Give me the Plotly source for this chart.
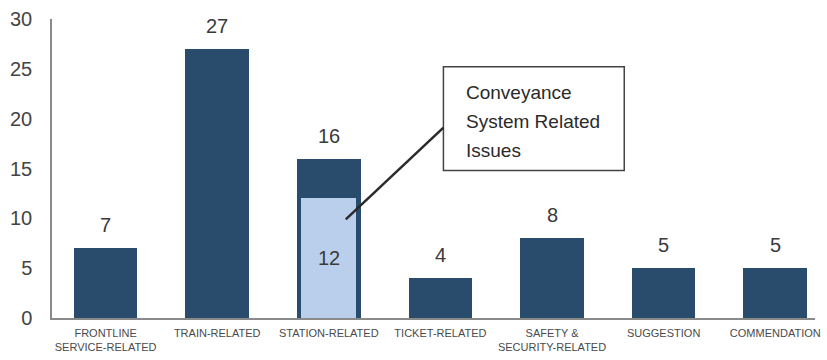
import plotly.graph_objects as go

# Complaint categories and counts
categories = ["FRONTLINE", "TRAIN", "STATION", "TICKET", "SAFETY", "SUGGESTION", "COMMENDATION"]
tick_labels = ["FRONTLINE<br>SERVICE-RELATED", "TRAIN-RELATED", "STATION-RELATED",
               "TICKET-RELATED", "SAFETY &<br>SECURITY-RELATED", "SUGGESTION", "COMMENDATION"]
counts = [7, 27, 16, 4, 8, 5, 5]

# Conveyance-system share of station-related issues
sub_category = ["STATION"]
sub_counts = [12]

y_ticks = [0, 5, 10, 15, 20, 25, 30]

DARK = "#294c6c"
LIGHT = "#bacfeb"
TEXT = "#3a3a3a"
FONT = "Liberation Sans, Arial, sans-serif"
BAR_W = 0.57
SUB_W = 0.49

fig = go.Figure()
fig.add_trace(go.Bar(x=categories, y=counts, width=BAR_W, offset=-BAR_W / 2,
                     marker=dict(color=DARK, line=dict(width=0)), hoverinfo="skip"))
fig.add_trace(go.Bar(x=sub_category, y=sub_counts, width=SUB_W, offset=-SUB_W / 2,
                     marker=dict(color=LIGHT, line=dict(width=0)), hoverinfo="skip"))

# value labels above each bar
for c, v in zip(categories, counts):
    fig.add_annotation(x=c, y=v, text=str(v), showarrow=False, yanchor="bottom", yshift=10,
                       font=dict(family=FONT, size=20, color=TEXT))
# label inside the conveyance segment
for c, v in zip(sub_category, sub_counts):
    fig.add_annotation(x=c, y=v / 2, text=str(v), showarrow=False, yanchor="middle",
                       font=dict(family=FONT, size=20, color=TEXT))

# callout box with leader line
callout_lines = ["Conveyance", "System Related", "Issues"]
fig.add_shape(type="rect", xref="paper", yref="paper", x0=0.513, x1=0.75, y0=0.493, y1=0.84,
              line=dict(color="#444", width=1.5), fillcolor="white")
fig.add_shape(type="line", xref="paper", yref="paper", x0=0.385, y0=0.33, x1=0.513, y1=0.637,
              line=dict(color="#2a2a2a", width=2.5))
for i, line in enumerate(callout_lines):
    fig.add_annotation(xref="paper", yref="paper", x=0.54, y=0.753 - i * 0.097, text=line,
                       showarrow=False, xanchor="left", yanchor="middle",
                       font=dict(family=FONT, size=19, color="#2a2a2a"))

fig.update_layout(
    width=827, height=360,
    margin=dict(l=52, r=7, t=19, b=41),
    barmode="overlay",
    bargap=0,
    showlegend=False,
    plot_bgcolor="white",
    paper_bgcolor="white",
    xaxis=dict(
        range=[-0.48, 6.356],
        tickmode="array", tickvals=categories, ticktext=tick_labels,
        tickfont=dict(family=FONT, size=11, color="#4a4a4a"),
        showline=True, linecolor="#8a8a8a", linewidth=1.5,
        showgrid=False, ticks="", fixedrange=True, ticklabelstandoff=4,
    ),
    yaxis=dict(
        range=[0, 30],
        tickmode="array", tickvals=y_ticks,
        tickfont=dict(family=FONT, size=20, color="#444"),
        showline=True, linecolor="#8a8a8a", linewidth=1.5,
        showgrid=False, zeroline=False, ticks="", ticklabelstandoff=14,
    ),
)

fig.write_html("out.html")
